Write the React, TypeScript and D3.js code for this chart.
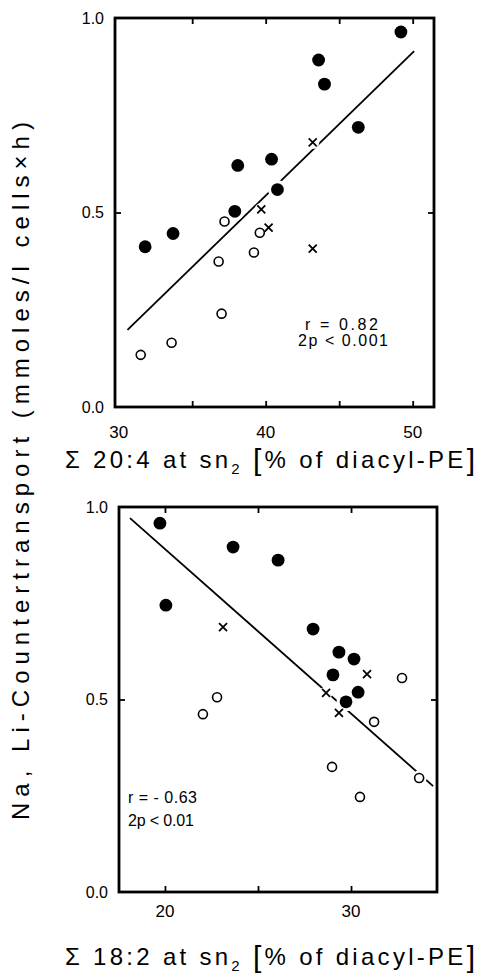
import React, { useEffect, useRef } from 'react';
import * as d3 from 'd3';

// upper panel: sum 20:4 at sn2
const topFilledX = [31.8, 33.7, 37.9, 38.1, 40.4, 40.8, 43.6, 44.0, 46.3, 49.2];
const topFilledY = [0.412, 0.446, 0.503, 0.621, 0.637, 0.559, 0.892, 0.830, 0.719, 0.964];
const topOpenX = [31.5, 33.6, 37.0, 36.8, 37.2, 39.2, 39.6];
const topOpenY = [0.134, 0.165, 0.240, 0.374, 0.477, 0.397, 0.448];
const topCrossX = [39.7, 40.2, 43.2, 43.2];
const topCrossY = [0.508, 0.461, 0.407, 0.680];
const topFitX = [30.6, 50.1];
const topFitY = [0.198, 0.915];
const topTicks = [35, 40, 45, 50];
const topTickLabels = [30, 40, 50];
const topNote = ['r = 0.82', '2p < 0.001'];

// lower panel: sum 18:2 at sn2
const botFilledX = [19.73, 20.05, 23.66, 26.08, 27.96, 29.35, 30.16, 29.03, 30.38, 29.73];
const botFilledY = [0.958, 0.745, 0.896, 0.862, 0.683, 0.623, 0.605, 0.564, 0.519, 0.494];
const botOpenX = [22.8, 22.04, 28.98, 30.48, 31.24, 32.74, 33.66];
const botOpenY = [0.506, 0.462, 0.325, 0.247, 0.442, 0.556, 0.296];
const botCrossX = [23.12, 28.66, 30.86, 29.35];
const botCrossY = [0.688, 0.517, 0.566, 0.465];
const botFitX = [18.12, 34.41];
const botFitY = [0.971, 0.275];
const botTicks = [20, 25, 30];
const botTickLabels = [20, 30];
const botNote = ['r = - 0.63', '2p < 0.01'];

const yTicks = [0.5];
const yTickLabels = [0.0, 0.5, 1.0];

const FONT = "'Liberation Sans', Arial, sans-serif";

const zip = (xs, ys) => xs.map((x, i) => [x, ys[i]]);

function drawPanel(svg, p) {
    const x = d3.scaleLinear().domain(p.xDomain).range([p.left, p.right]);
    const y = d3.scaleLinear().domain([0, 1]).range([p.bottom, p.top]);
    const g = svg.append('g');

    // inward ticks on all four sides
    const tickStyle = (sel) => {
        sel.select('.domain').remove();
        sel.selectAll('.tick line').attr('stroke', '#000').attr('stroke-width', 1.8);
        sel.selectAll('.tick text').remove();
    };
    g.append('g').attr('transform', `translate(0,${p.bottom})`)
        .call(d3.axisBottom(x).tickValues(p.ticks).tickSize(-6)).call(tickStyle);
    g.append('g').attr('transform', `translate(0,${p.top})`)
        .call(d3.axisTop(x).tickValues(p.ticks).tickSize(-6)).call(tickStyle);
    g.append('g').attr('transform', `translate(${p.left},0)`)
        .call(d3.axisLeft(y).tickValues(yTicks).tickSize(-6)).call(tickStyle);
    g.append('g').attr('transform', `translate(${p.right},0)`)
        .call(d3.axisRight(y).tickValues(yTicks).tickSize(-6)).call(tickStyle);

    // frame
    g.append('rect')
        .attr('x', p.left).attr('y', p.top)
        .attr('width', p.right - p.left).attr('height', p.bottom - p.top)
        .attr('fill', 'none').attr('stroke', '#000').attr('stroke-width', 2.8);

    // tick labels
    g.selectAll('text.xl').data(p.tickLabels).enter().append('text')
        .attr('x', d => x(d)).attr('y', p.bottom + p.labelOffset)
        .attr('text-anchor', 'middle')
        .attr('font-family', FONT).attr('font-size', 17)
        .text(d => d);
    g.selectAll('text.yl').data(yTickLabels).enter().append('text')
        .attr('x', p.left - 11).attr('y', d => y(d))
        .attr('dy', '0.36em')
        .attr('text-anchor', 'end')
        .attr('font-family', FONT).attr('font-size', 16)
        .text(d => d3.format('.1f')(d));

    // regression line
    const fit = zip(p.fitX, p.fitY);
    g.append('path')
        .attr('d', d3.line().x(d => x(d[0])).y(d => y(d[1]))(fit))
        .attr('fill', 'none').attr('stroke', '#000').attr('stroke-width', 1.8);

    const filled = zip(p.filledX, p.filledY);
    const open = zip(p.openX, p.openY);
    const cross = zip(p.crossX, p.crossY);

    // white halos so the line breaks around the symbols
    g.selectAll('circle.halo')
        .data([...filled.map(d => [...d, 9.5]), ...open.map(d => [...d, 7.5]), ...cross.map(d => [...d, 6.5])])
        .enter().append('circle')
        .attr('cx', d => x(d[0])).attr('cy', d => y(d[1])).attr('r', d => d[2])
        .attr('fill', '#fff');

    g.selectAll('circle.open').data(open).enter().append('circle')
        .attr('cx', d => x(d[0])).attr('cy', d => y(d[1])).attr('r', 4.5)
        .attr('fill', '#fff').attr('stroke', '#000').attr('stroke-width', 1.6);
    g.selectAll('path.cross').data(cross).enter().append('path')
        .attr('transform', d => `translate(${x(d[0])},${y(d[1])})`)
        .attr('d', 'M-4,-4L4,4M-4,4L4,-4')
        .attr('stroke', '#000').attr('stroke-width', 1.8);
    g.selectAll('circle.filled').data(filled).enter().append('circle')
        .attr('cx', d => x(d[0])).attr('cy', d => y(d[1])).attr('r', 6.4)
        .attr('fill', '#000');

    // r / p note
    p.note.forEach((t, i) => {
        g.append('text')
            .attr('x', p.noteX[i]).attr('y', p.noteY[i])
            .attr('font-family', FONT).attr('font-size', 16)
            .attr('textLength', p.noteW[i]).attr('lengthAdjust', 'spacing')
            .text(t);
    });

    // x title
    const title = g.append('text')
        .attr('x', 65).attr('y', p.titleY)
        .attr('font-family', FONT).attr('font-size', 24)
        .attr('textLength', 410).attr('lengthAdjust', 'spacing');
    title.append('tspan').text(`Σ ${p.acid} at sn`);
    title.append('tspan').attr('font-size', 15).attr('dy', 6).text('2');
    title.append('tspan').attr('dy', -6).text(' ');
    title.append('tspan').attr('font-size', 30).attr('dy', 2).text('[');
    title.append('tspan').attr('dy', -2).text('% of diacyl-PE');
    title.append('tspan').attr('font-size', 30).attr('dy', 2).text(']');
}

const App = () => {
    const svgRef = useRef(null);

    useEffect(() => {
        const svg = d3.select(svgRef.current);
        svg.selectAll('*').remove();

        drawPanel(svg, {
            left: 115, right: 434, top: 18, bottom: 407,
            xDomain: [29.75, 51.45],
            ticks: topTicks, tickLabels: topTickLabels, labelOffset: 31,
            filledX: topFilledX, filledY: topFilledY,
            openX: topOpenX, openY: topOpenY,
            crossX: topCrossX, crossY: topCrossY,
            fitX: topFitX, fitY: topFitY,
            note: topNote, noteX: [305, 298], noteY: [330, 346], noteW: [73, 90],
            acid: '20:4', titleY: 468,
        });

        drawPanel(svg, {
            left: 119, right: 437, top: 507, bottom: 892,
            xDomain: [17.53, 34.62],
            ticks: botTicks, tickLabels: botTickLabels, labelOffset: 25,
            filledX: botFilledX, filledY: botFilledY,
            openX: botOpenX, openY: botOpenY,
            crossX: botCrossX, crossY: botCrossY,
            fitX: botFitX, fitY: botFitY,
            note: botNote, noteX: [128, 128], noteY: [803, 826], noteW: [69, 66],
            acid: '18:2', titleY: 965,
        });

        // shared y title
        svg.append('text')
            .attr('transform', 'translate(29,471) rotate(-90)')
            .attr('text-anchor', 'middle')
            .attr('font-family', FONT).attr('font-size', 24)
            .attr('textLength', 698).attr('lengthAdjust', 'spacing')
            .text('Na, Li-Countertransport (mmoles/l cells×h)');
    }, []);

    return (
        <svg ref={svgRef} width={490} height={973}
            style={{ position: 'absolute', left: 0, top: 0, background: '#fff' }} />
    );
};

export default App;
